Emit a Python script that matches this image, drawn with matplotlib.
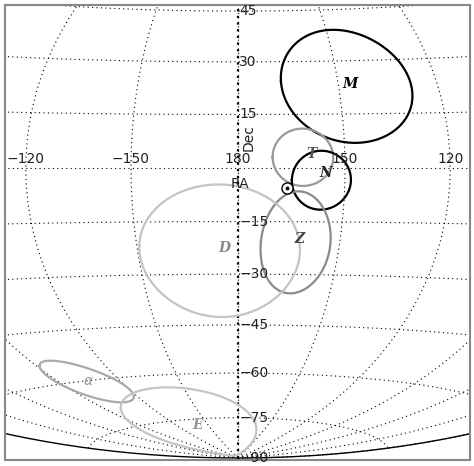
import numpy as np
import matplotlib.pyplot as plt

# sky regions: name, ra0, dec0, semi-axis east, semi-axis north, tilt (deg), colour
regions = ["M", "T", "N", "Z", "D", "alpha", "E"]
ra0 = [147.5, 161.8, 156.6, 163.0, 185.5, 257.0, 222.0]
dec0 = [23.0, 3.0, -3.4, -21.0, -23.6, -60.5, -76.5]
semi_a = [18.0, 8.5, 8.3, 9.6, 22.0, 8.8, 13.0]
semi_b = [16.0, 8.0, 8.2, 14.5, 19.0, 5.8, 12.5]
tilt = [8.0, 0.0, 0.0, 0.0, 0.0, 40.0, 12.0]
colors = ["black", "#999999", "black", "#8a8a8a", "#c4c4c4", "#aaaaaa", "#c4c4c4"]
label_colors = ["black", "#555555", "#222222", "#444444", "#888888", "#999999", "#999999"]
label_text = ["M", "T", "N", "Z", "D", r"$\alpha$", "E"]
label_ra = [146.5, 159.5, 155.5, 162.0, 184.0, 255.0, 220.0]
label_dec = [23.5, 4.0, -1.5, -20.0, -22.5, -60.0, -77.0]

sun_ra, sun_dec = 166.2, -5.6

dec_ticks = [45, 30, 15, -15, -30, -45, -60, -75, -90]
ra_ticks = [240, 210, 180, 150, 120]
ra_tick_labels = ["-120", "-150", "180", "150", "120"]


def hammer(ra, dec):
    lam = np.radians(180.0 - np.asarray(ra, dtype=float))
    lam = (lam + np.pi) % (2 * np.pi) - np.pi
    phi = np.radians(np.asarray(dec, dtype=float))
    d = np.sqrt(1 + np.cos(phi) * np.cos(lam / 2))
    return 2 * np.sqrt(2) * np.cos(phi) * np.sin(lam / 2) / d, np.sqrt(2) * np.sin(phi) / d


def sky_ellipse(ra_c, dec_c, a, b, th, n=400):
    t = np.linspace(0, 2 * np.pi, n)
    xi = a * np.cos(t)
    eta = b * np.sin(t)
    c, s = np.cos(np.radians(th)), np.sin(np.radians(th))
    xi, eta = c * xi - s * eta, s * xi + c * eta
    r = np.radians(np.hypot(xi, eta))
    ang = np.arctan2(eta, xi)
    ra_r, de_r = np.radians(ra_c), np.radians(dec_c)
    cen = np.array([np.cos(de_r) * np.cos(ra_r), np.cos(de_r) * np.sin(ra_r), np.sin(de_r)])
    east = np.array([-np.sin(ra_r), np.cos(ra_r), 0.0])
    north = np.cross(cen, east)
    v = (np.cos(r)[:, None] * cen
         + np.sin(r)[:, None] * (np.cos(ang)[:, None] * east + np.sin(ang)[:, None] * north))
    dec = np.degrees(np.arcsin(np.clip(v[:, 2], -1, 1)))
    ra = np.degrees(np.arctan2(v[:, 1], v[:, 0])) % 360
    return ra, dec


fig = plt.figure(figsize=(4.74, 4.66), dpi=100)
ax = fig.add_axes([5 / 474, 6 / 466, 465 / 474, 455 / 466])
ax.set_xlim(-1.137, 1.132)
ax.set_ylim(-1.424, 0.795)
ax.set_aspect("auto")
ax.set_xticks([])
ax.set_yticks([])
for sp in ax.spines.values():
    sp.set_color("#888888")
    sp.set_linewidth(1.5)

# grid
dd = np.linspace(-90, 90, 400)
for ra in range(0, 360, 30):
    x, y = hammer(np.full_like(dd, ra + 1e-6), dd)
    ax.plot(x, y, color="black", ls=(0, (1, 3)), lw=0.8)
rr = np.linspace(0.001, 359.999, 800)
for dec in [75, 60, 45, 30, 15, 0, -15, -30, -45, -60, -75]:
    order = np.argsort(180 - rr)
    x, y = hammer(rr[order], np.full_like(rr, dec))
    ax.plot(x, y, color="black", ls=(0, (1, 3)), lw=0.8)
x, y = hammer(np.full_like(dd, 180.0), dd)
ax.plot(x, y, color="black", ls=(0, (1, 2)), lw=1.6)

# outer boundary
t = np.linspace(0, 2 * np.pi, 600)
ax.plot(2 * np.sqrt(2) * np.cos(t), np.sqrt(2) * np.sin(t), color="black", lw=1.0)

# regions
for i in range(len(regions)):
    ra, dec = sky_ellipse(ra0[i], dec0[i], semi_a[i], semi_b[i], tilt[i])
    x, y = hammer(ra, dec)
    ax.plot(x, y, color=colors[i], lw=1.6)
    lx, ly = hammer(label_ra[i], label_dec[i])
    ax.text(lx, ly, label_text[i], color=label_colors[i],
            fontsize=10, fontstyle="italic", fontweight="bold", fontfamily="DejaVu Serif",
            ha="center", va="center")

sx, sy = hammer(sun_ra, sun_dec)
ax.plot(sx, sy, "o", ms=8, mfc="white", mec="black", mew=1.0)
ax.plot(sx, sy, "o", ms=1.8, color="black")

# tick labels
for d in dec_ticks:
    x, y = hammer(180.0, d)
    ax.text(x + 0.005, y, str(d).replace("-", "\u2212"), fontsize=10, color="#222222",
            ha="left", va="center")
for ra, lab in zip(ra_ticks, ra_tick_labels):
    x, y = hammer(ra, 0.0)
    ax.text(x, y + 0.01, lab.replace("-", "\u2212"), fontsize=10, color="#222222",
            ha="center", va="bottom")
ax.text(0.01, -0.08, "RA", fontsize=10, color="#222222", ha="center", va="center")
ax.text(0.05, 0.15, "Dec", fontsize=10, color="#222222", rotation=90, ha="center", va="center")

fig.savefig("out.png", dpi=100)
